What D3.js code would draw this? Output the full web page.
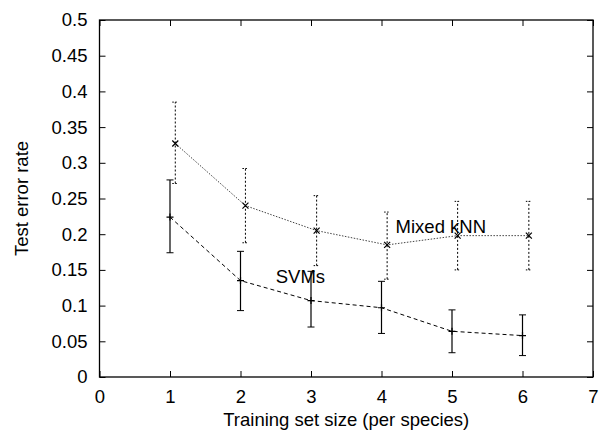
<!DOCTYPE html>
<html><head><meta charset="utf-8">
<script src="https://cdn.jsdelivr.net/npm/d3@7"></script>
<style>body{margin:0;background:#fff}svg{display:block}text{font-family:"Liberation Sans",Arial,sans-serif}</style>
</head><body>
<script>
const xTicks = [0,1,2,3,4,5,6,7];
const yTicks = [0,0.05,0.1,0.15,0.2,0.25,0.3,0.35,0.4,0.45,0.5];
const svmX = [1,2,3,4,5,6];
const svmY = [0.224,0.135,0.107,0.097,0.064,0.058];
const svmLo = [0.174,0.093,0.070,0.061,0.034,0.030];
const svmHi = [0.276,0.176,0.148,0.134,0.094,0.087];
const knnX = [1.075,2.07,3.08,4.08,5.08,6.09];
const knnY = [0.327,0.240,0.205,0.185,0.198,0.198];
const knnLo = [0.271,0.188,0.156,0.137,0.150,0.150];
const knnHi = [0.385,0.292,0.254,0.231,0.246,0.246];
const labels = [{t:"SVMs",x:2.50,y:0.131},{t:"Mixed kNN",x:4.20,y:0.202}];

const W=600,H=434, L=99.5, R=593, T=20, B=377;
const svg=d3.select("body").append("svg").attr("width",W).attr("height",H);
const x=d3.scaleLinear().domain([0,7]).range([L,R]);
const y=d3.scaleLinear().domain([0,0.5]).range([B,T]);
const fs=18.5;

// axes
svg.append("g").attr("transform",`translate(0,${B})`).call(d3.axisBottom(x).tickValues(xTicks).tickSize(-6).tickPadding(13).tickFormat(d3.format("d")))
  .call(g=>{g.select(".domain").remove();g.selectAll("text").attr("font-size",fs).attr("fill","#000").attr("font-family",null);});
svg.append("g").attr("transform",`translate(0,${T})`).call(d3.axisTop(x).tickValues(xTicks).tickSize(-6).tickFormat(""))
  .call(g=>g.select(".domain").remove());
svg.append("g").attr("transform",`translate(${L},0)`).call(d3.axisLeft(y).tickValues(yTicks).tickSize(-6).tickPadding(12).tickFormat(d=>d3.format("")(+d.toFixed(2))))
  .call(g=>{g.select(".domain").remove();g.selectAll("text").attr("font-size",fs).attr("fill","#000").attr("font-family",null);});
svg.append("g").attr("transform",`translate(${R},0)`).call(d3.axisRight(y).tickValues(yTicks).tickSize(-6).tickFormat(""))
  .call(g=>g.select(".domain").remove());
svg.append("rect").attr("x",L).attr("y",T).attr("width",R-L).attr("height",B-T).attr("fill","none").attr("stroke","#000").attr("stroke-width",1.3);

// titles
svg.append("text").attr("x",(L+R)/2).attr("y",426).attr("text-anchor","middle").attr("font-size",fs).text("Training set size (per species)");
svg.append("text").attr("transform",`translate(28,${(T+B)/2}) rotate(-90)`).attr("text-anchor","middle").attr("font-size",fs).text("Test error rate");

const line=d3.line();
// kNN
const kpts=knnX.map((v,i)=>[x(v),y(knnY[i])]);
svg.append("path").attr("d",line(kpts)).attr("fill","none").attr("stroke","#444").attr("stroke-width",1).attr("stroke-dasharray","1.5,1.5");
knnX.forEach((v,i)=>{
  const g=svg.append("g").attr("stroke","#000").attr("stroke-width",1).attr("stroke-dasharray","2,2");
  g.append("line").attr("x1",x(v)).attr("x2",x(v)).attr("y1",y(knnLo[i])).attr("y2",y(knnHi[i]));
  [knnLo[i],knnHi[i]].forEach(e=>svg.append("line").attr("x1",x(v)-3).attr("x2",x(v)+3).attr("y1",y(e)).attr("y2",y(e)).attr("stroke","#000").attr("stroke-dasharray","1.5,1.5"));
  const cx=x(v),cy=y(knnY[i]);
  svg.append("path").attr("d",`M${cx-3},${cy-3}L${cx+3},${cy+3}M${cx-3},${cy+3}L${cx+3},${cy-3}`).attr("stroke","#000").attr("stroke-width",1.2);
});
// SVM
const spts=svmX.map((v,i)=>[x(v),y(svmY[i])]);
svg.append("path").attr("d",line(spts)).attr("fill","none").attr("stroke","#000").attr("stroke-width",1).attr("stroke-dasharray","4,3");
svmX.forEach((v,i)=>{
  svg.append("line").attr("x1",x(v)).attr("x2",x(v)).attr("y1",y(svmLo[i])).attr("y2",y(svmHi[i])).attr("stroke","#000").attr("stroke-width",1.2);
  [svmLo[i],svmHi[i]].forEach(e=>svg.append("line").attr("x1",x(v)-3.5).attr("x2",x(v)+3.5).attr("y1",y(e)).attr("y2",y(e)).attr("stroke","#000"));
  const cx=x(v),cy=y(svmY[i]);
  svg.append("path").attr("d",`M${cx-3.5},${cy}L${cx+3.5},${cy}M${cx},${cy-3.5}L${cx},${cy+3.5}`).attr("stroke","#000").attr("stroke-width",1.2);
});
labels.forEach(l=>svg.append("text").attr("x",x(l.x)).attr("y",y(l.y)).attr("font-size",fs).text(l.t));
</script>
</body></html>
